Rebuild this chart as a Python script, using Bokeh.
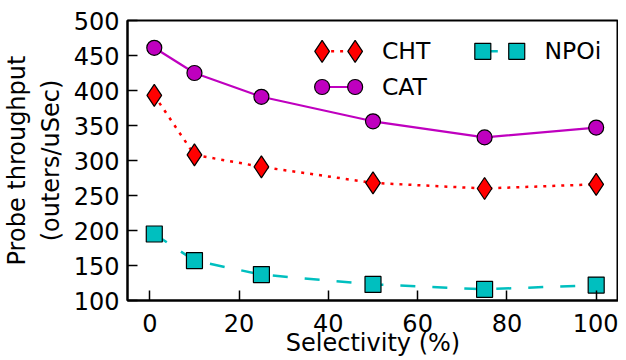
from bokeh.plotting import figure
from bokeh.models import Range1d, FixedTicker
from bokeh.embed import file_html
from bokeh.resources import INLINE
from bokeh.core.properties import value

# ---- data ----
selectivity = [1, 10, 25, 50, 75, 100]
cht = [393, 308, 291, 268, 260, 266]
cat = [461, 425, 391, 356, 333, 347]
npoi = [195, 157, 137, 123, 116, 122]
x_ticks = [0, 20, 40, 60, 80, 100]
y_ticks = [100, 150, 200, 250, 300, 350, 400, 450, 500]
series_names = ["CHT", "CAT", "NPOi"]

FONT = "DejaVu Sans"
RED = "#ff0000"
MAG = "#bf00bf"
CYAN = "#00bfbf"
DOT = "3 6"
DASH = "15 17"

p = figure(width=618, height=359, output_backend="svg", toolbar_location=None,
           x_range=Range1d(-5, 105), y_range=Range1d(100, 500),
           min_border_left=118, min_border_right=0, min_border_top=20, min_border_bottom=0)

p.xgrid.visible = False
p.ygrid.visible = False
p.outline_line_color = "black"
p.outline_line_width = 2
p.outline_line_alpha = 1.0
p.background_fill_color = "white"
p.border_fill_color = "white"

for ax in (p.xaxis[0], p.yaxis[0]):
    ax.axis_line_width = 2
    ax.axis_line_color = "black"
    ax.major_tick_in = 10
    ax.major_tick_out = 0
    ax.major_tick_line_width = 1.5
    ax.minor_tick_line_color = None
    ax.major_label_text_font = FONT
    ax.major_label_text_font_size = "24px"
    ax.major_label_text_color = "black"
    ax.axis_label_text_font = FONT
    ax.axis_label_text_font_size = "24px"
    ax.axis_label_text_font_style = "normal"
    ax.axis_label_text_color = "black"

p.xaxis.ticker = FixedTicker(ticks=x_ticks)
p.yaxis.ticker = FixedTicker(ticks=y_ticks)
p.xaxis.axis_label = "Selectivity (%)"
p.yaxis.axis_label = "Probe throughput\n(outers/uSec)"
p.xaxis.major_label_standoff = 13
p.xaxis.axis_label_standoff = -6
p.yaxis.major_label_standoff = 8
p.yaxis.axis_label_standoff = 6

# ---- series ----
p.line(selectivity, cat, line_color=MAG, line_width=2.2)
p.scatter(selectivity, cat, marker="circle", size=15, fill_color=MAG,
          line_color="black", line_width=1.2)

p.line(selectivity, cht, line_color=RED, line_width=2.5, line_dash=DOT)
p.scatter(selectivity, cht, marker="diamond", size=22, fill_color=RED,
          line_color="black", line_width=1.2)

p.line(selectivity, npoi, line_color=CYAN, line_width=2.5, line_dash=DASH)
p.scatter(selectivity, npoi, marker="square", size=16, fill_color=CYAN,
          line_color="black", line_width=1.2)

# ---- manual legend (two markers per entry, matplotlib style) ----
def legend_entry(x0, x1, xt, y, label, color, marker, size, dash):
    p.line([x0, x1], [y, y], line_color=color, line_width=2.2 if dash is None else 2.5,
           line_dash=dash if dash else "solid")
    p.scatter([x0, x1], [y, y], marker=marker, size=size, fill_color=color,
              line_color="black", line_width=1.2)
    p.text([xt], [y], text=[label], text_font=value(FONT), text_font_size="23.5px",
           text_baseline="middle", text_align="left", text_color="black")

legend_entry(38.6, 46.0, 52.0, 456, series_names[0], RED, "diamond", 22, DOT)
legend_entry(38.6, 46.0, 52.0, 405, series_names[1], MAG, "circle", 15, None)
legend_entry(74.6, 82.2, 88.4, 456, series_names[2], CYAN, "square", 16, DASH)

open("out.html", "w").write(file_html(p, INLINE))
